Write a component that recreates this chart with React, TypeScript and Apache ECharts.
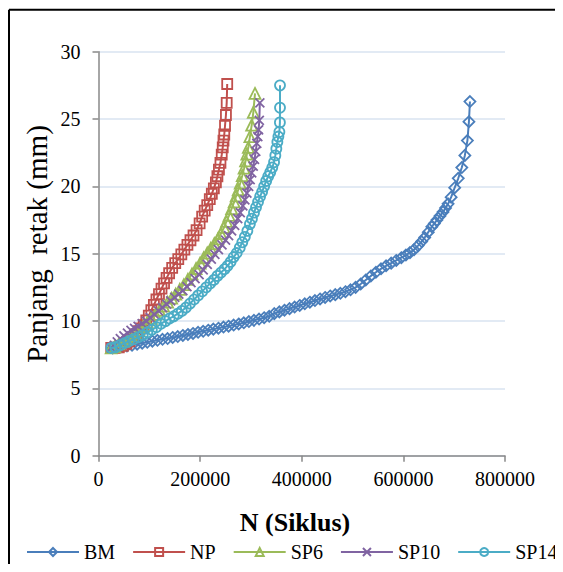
import React, { useEffect, useRef } from "react";
import * as echarts from "echarts";

const FONT = "Liberation Serif";

const xTicks = [0, 200000, 400000, 600000, 800000];
const yTicks = [0, 5, 10, 15, 20, 25, 30];
const seriesNames = ["BM", "NP", "SP6", "SP10", "SP14"];
const seriesColors = ["#4A7EBB", "#C0504D", "#9BBB59", "#8064A2", "#4BACC6"];

const bmN = [28000, 36000, 46000, 56000, 66000, 76000, 86000, 96000, 106000, 116000, 126000, 136000, 146000, 156000, 166000, 176000, 186000, 196000, 206000, 216000, 226000, 236000, 246000, 256000, 266000, 276000, 286000, 296000, 306000, 316000, 326000, 336000, 346000, 356000, 366000, 376000, 386000, 396000, 406000, 416000, 426000, 436000, 446000, 456000, 466000, 476000, 486000, 496000, 506000, 516000, 526000, 536000, 546000, 556000, 566000, 576000, 586000, 596000, 605000, 613000, 621000, 629000, 636000, 642000, 649000, 656000, 661000, 666000, 672000, 678000, 683000, 688000, 694000, 701000, 708000, 715000, 721000, 726000, 729000, 731000];
const bmV = [8.0, 8.05, 8.1, 8.15, 8.2, 8.28, 8.35, 8.42, 8.5, 8.57, 8.64, 8.7, 8.78, 8.85, 8.93, 9.0, 9.08, 9.16, 9.24, 9.32, 9.4, 9.47, 9.55, 9.62, 9.7, 9.78, 9.87, 9.96, 10.05, 10.15, 10.25, 10.35, 10.55, 10.68, 10.8, 10.92, 11.04, 11.16, 11.28, 11.4, 11.52, 11.64, 11.75, 11.86, 11.96, 12.06, 12.18, 12.32, 12.5, 12.75, 13.05, 13.35, 13.62, 13.88, 14.1, 14.3, 14.5, 14.7, 14.9, 15.08, 15.3, 15.6, 15.9, 16.2, 16.6, 17.0, 17.25, 17.5, 17.8, 18.1, 18.4, 18.7, 19.2, 19.9, 20.6, 21.4, 22.3, 23.4, 24.8, 26.3];

const npN = [25000, 32000, 40000, 48000, 55000, 61000, 67000, 73000, 79000, 84000, 89000, 94000, 99000, 104000, 109000, 114000, 119000, 124000, 129000, 134000, 139000, 145000, 151000, 157000, 163000, 169000, 175000, 181000, 187000, 193000, 199000, 204000, 209000, 214000, 219000, 223000, 227000, 231000, 234000, 237000, 240000, 242500, 244500, 246000, 247500, 249000, 250800, 252300, 253300];
const npV = [8.0, 8.0, 8.05, 8.15, 8.3, 8.5, 8.75, 9.0, 9.25, 9.45, 9.7, 10.05, 10.4, 10.8, 11.2, 11.6, 12.0, 12.4, 12.8, 13.2, 13.55, 13.95, 14.3, 14.6, 14.95, 15.3, 15.65, 16.0, 16.35, 16.75, 17.25, 17.75, 18.2, 18.6, 19.05, 19.45, 19.85, 20.3, 20.75, 21.25, 21.75, 22.35, 22.9, 23.4, 23.85, 24.5, 25.3, 26.2, 27.6];

const sp6N = [25000, 32000, 40000, 48000, 56000, 64000, 72000, 80000, 88000, 96000, 104000, 112000, 120000, 128000, 136000, 144000, 152000, 160000, 168000, 176000, 184000, 192000, 200000, 207000, 214000, 221000, 228000, 235000, 241000, 247000, 252000, 257000, 262000, 267000, 271000, 275000, 279000, 283000, 286500, 289500, 292000, 295000, 298000, 301500, 304700, 308000];
const sp6V = [8.0, 8.1, 8.3, 8.5, 8.7, 8.9, 9.1, 9.3, 9.6, 9.9, 10.2, 10.5, 10.8, 11.1, 11.4, 11.7, 12.0, 12.35, 12.7, 13.1, 13.5, 13.9, 14.3, 14.7, 15.05, 15.4, 15.75, 16.1, 16.5, 16.95, 17.4, 17.85, 18.35, 18.85, 19.3, 19.75, 20.25, 20.8, 21.35, 21.9, 22.4, 22.9, 23.7, 24.55, 25.5, 26.9];

const sp10N = [25000, 31000, 37000, 43000, 50000, 57000, 64000, 71000, 78000, 86000, 94000, 102000, 110000, 118000, 126000, 134000, 142000, 150000, 158000, 166000, 174000, 182000, 190000, 198000, 206000, 214000, 222000, 229000, 236000, 243000, 250000, 256000, 262000, 268000, 274000, 279000, 284000, 288000, 292000, 295500, 298500, 301500, 304500, 307000, 309500, 311500, 313500, 315000, 316500, 317500];
const sp10V = [8.0, 8.2, 8.45, 8.7, 8.9, 9.1, 9.3, 9.45, 9.6, 9.8, 10.0, 10.25, 10.5, 10.75, 11.0, 11.25, 11.5, 11.75, 12.0, 12.25, 12.55, 12.85, 13.15, 13.45, 13.8, 14.2, 14.6, 14.95, 15.3, 15.65, 16.0, 16.35, 16.7, 17.1, 17.6, 18.05, 18.55, 19.0, 19.5, 20.0, 20.5, 21.0, 21.5, 22.0, 22.6, 23.2, 23.7, 24.2, 24.9, 26.2];

const sp14N = [25000, 33000, 42000, 51000, 60000, 69000, 78000, 87000, 96000, 105000, 114000, 123000, 132000, 140000, 148000, 156000, 164000, 172000, 180000, 188000, 196000, 204000, 212000, 220000, 227000, 234000, 241000, 248000, 254000, 260000, 266000, 272000, 278000, 283000, 288000, 293000, 298000, 302000, 306000, 310000, 314000, 318000, 322000, 326000, 330000, 334000, 338000, 342000, 345500, 348000, 350000, 352000, 354000, 356000, 357000, 357200, 357200];
const sp14V = [8.0, 8.05, 8.2, 8.35, 8.5, 8.65, 8.8, 8.95, 9.15, 9.35, 9.55, 9.8, 10.0, 10.2, 10.35, 10.55, 10.75, 11.0, 11.3, 11.6, 11.9, 12.2, 12.5, 12.8, 13.05, 13.35, 13.6, 13.85, 14.1, 14.4, 14.75, 15.05, 15.45, 15.85, 16.25, 16.7, 17.2, 17.6, 18.05, 18.45, 18.85, 19.25, 19.6, 20.0, 20.4, 20.75, 21.05, 21.4, 21.8, 22.3, 22.8, 23.3, 23.7, 24.05, 24.75, 25.85, 27.5];

const seriesN = [bmN, npN, sp6N, sp10N, sp14N];
const seriesV = [bmV, npV, sp6V, sp10V, sp14V];
const seriesSymbols = ["diamond", "rect", "triangle", "path://M0,0L10,10M10,0L0,10", "circle"];
const seriesSizes = [11, 10, 11, 9, 10];

export default function App() {
  const ref = useRef<HTMLDivElement>(null);
  useEffect(() => {
    if (!ref.current) return;
    const chart = echarts.init(ref.current, undefined, { renderer: "svg" });
    const series = seriesNames.map((name, i) => ({
      name,
      type: "line",
      data: seriesN[i].map((n, j) => [n, seriesV[i][j]]),
      symbol: seriesSymbols[i],
      symbolSize: seriesSizes[i],
      showAllSymbol: true,
      lineStyle: { color: seriesColors[i], width: 2 },
      itemStyle: { color: "rgba(255,255,255,0)", borderColor: seriesColors[i], borderWidth: 1.8 },
      emphasis: { disabled: true },
      z: 2 + i,
    }));
    chart.setOption({
      animation: false,
      textStyle: { fontFamily: FONT },
      grid: { left: 90.5, right: 58, top: 43.7, bottom: 108.3, containLabel: false },
      xAxis: {
        type: "value",
        min: xTicks[0],
        max: xTicks[xTicks.length - 1],
        interval: xTicks[1] - xTicks[0],
        axisLine: { show: true, onZero: false, lineStyle: { color: "#898989", width: 1.5 } },
        axisTick: { show: true, length: 6, lineStyle: { color: "#898989", width: 1.5 } },
        axisLabel: { color: "#000", fontSize: 20, fontFamily: FONT, margin: 13, formatter: (v: number) => String(v) },
        splitLine: { show: false },
      },
      yAxis: {
        type: "value",
        min: yTicks[0],
        max: yTicks[yTicks.length - 1],
        interval: yTicks[1] - yTicks[0],
        axisLine: { show: true, lineStyle: { color: "#898989", width: 1.5 } },
        axisTick: { show: true, length: 6, lineStyle: { color: "#898989", width: 1.5 } },
        axisLabel: { color: "#000", fontSize: 20, fontFamily: FONT, margin: 18 },
        splitLine: { show: true, lineStyle: { color: "#D9E3F0", width: 1.5 } },
      },
      legend: {
        data: seriesNames,
        left: 13,
        top: 529,
        itemWidth: 52,
        itemHeight: 10,
        itemGap: 17,
        textStyle: { color: "#000", fontSize: 20, fontFamily: FONT },
      },
      graphic: [
        {
          type: "line",
          shape: { x1: 1, y1: 1.7, x2: 555, y2: 1.7 },
          style: { stroke: "#000", lineWidth: 2 },
          silent: true,
          z: 100,
        },
        {
          type: "line",
          shape: { x1: 1, y1: 1.7, x2: 1, y2: 556 },
          style: { stroke: "#000", lineWidth: 2 },
          silent: true,
          z: 100,
        },
        {
          type: "text",
          x: 287,
          y: 514,
          style: {
            text: "N (Siklus)",
            font: `bold 26px ${FONT}`,
            fill: "#000",
            align: "center",
            verticalAlign: "middle",
          },
        },
        {
          type: "text",
          x: 29,
          y: 236,
          rotation: Math.PI / 2,
          style: {
            text: "Panjang  retak (mm)",
            font: `29px ${FONT}`,
            fill: "#000",
            align: "center",
            verticalAlign: "middle",
          },
        },
      ],
      series,
    });
    return () => chart.dispose();
  }, []);
  return <div ref={ref} style={{ width: 555, height: 556 }} />;
}
